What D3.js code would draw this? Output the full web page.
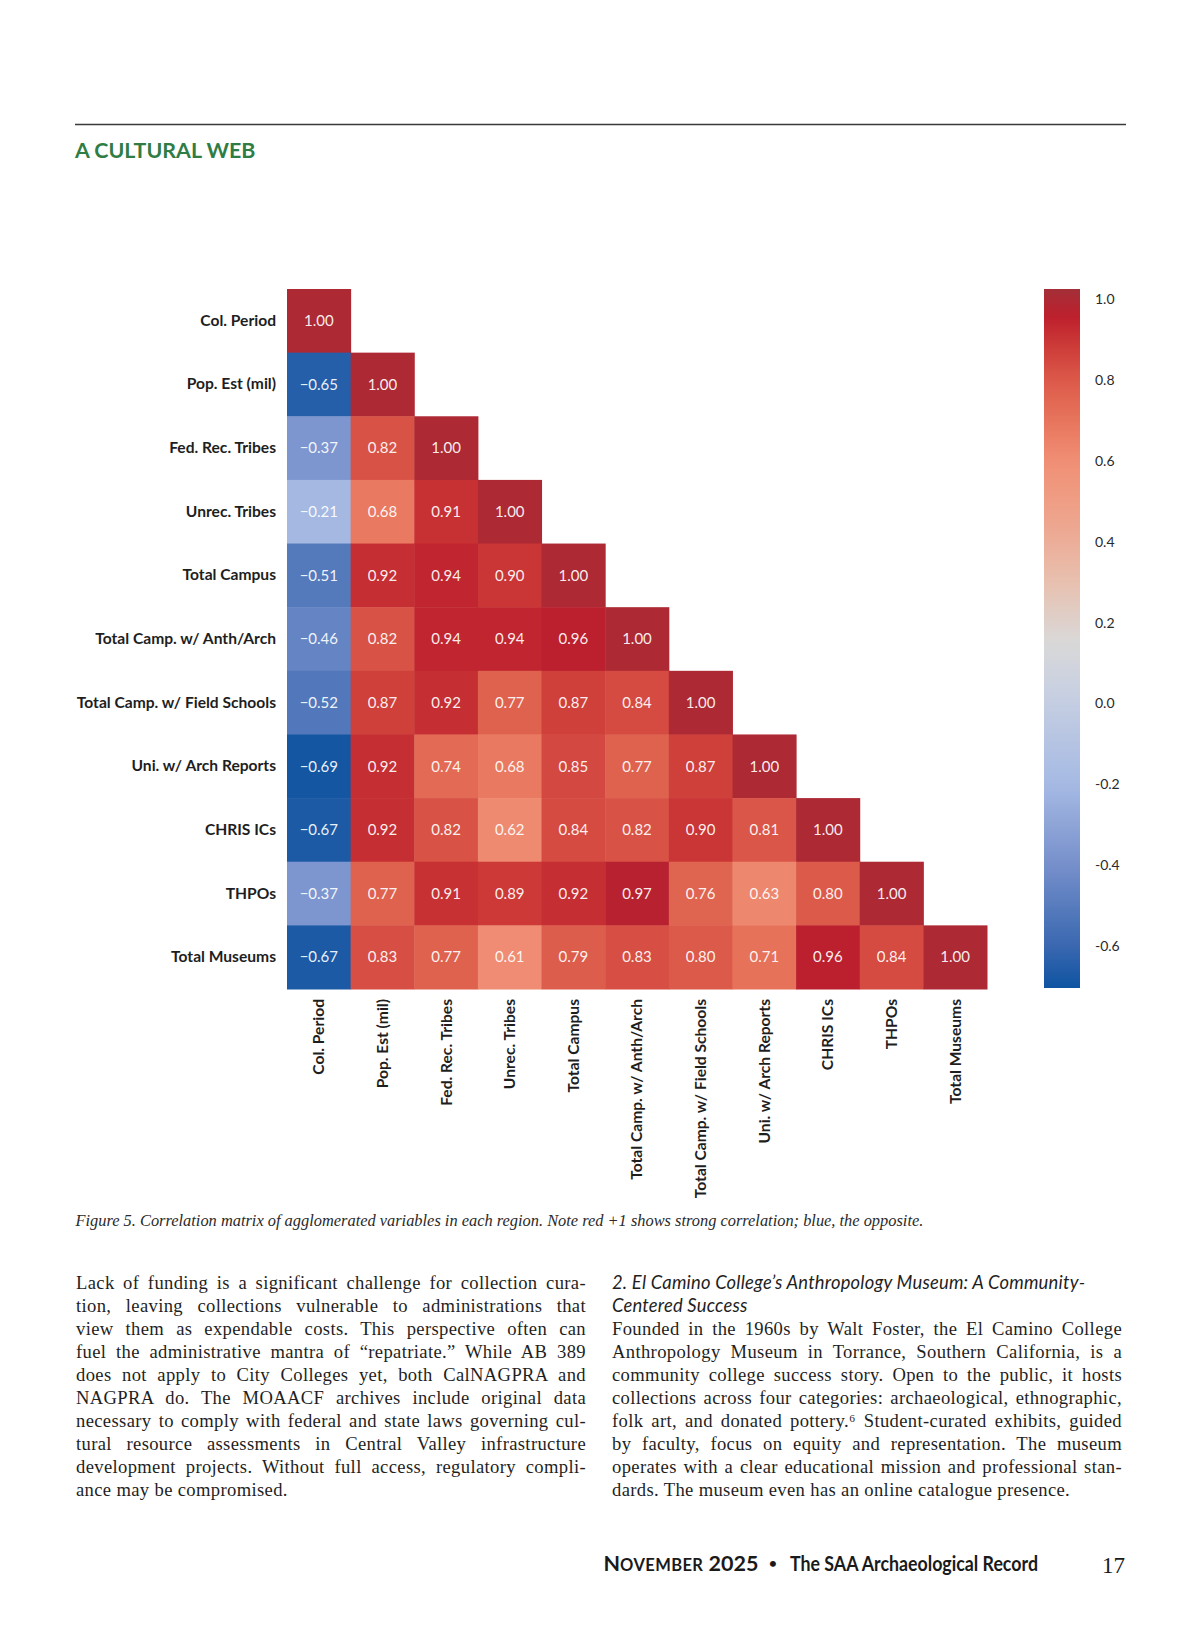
<!DOCTYPE html>
<html>
<head>
<meta charset="utf-8">
<script src="https://cdn.jsdelivr.net/npm/d3@7"></script>
<style>
  body { margin: 0; background: #fff; }
  svg { display: block; }
</style>
</head>
<body>
<div id="page"></div>
<script>
// variables (rows and columns of the matrix)
const variables = [
  'Col. Period',
  'Pop. Est (mil)',
  'Fed. Rec. Tribes',
  'Unrec. Tribes',
  'Total Campus',
  'Total Camp. w/ Anth/Arch',
  'Total Camp. w/ Field Schools',
  'Uni. w/ Arch Reports',
  'CHRIS ICs',
  'THPOs',
  'Total Museums'
];

// lower triangle, row by row
const corrRows = [
  [1.00],
  [-0.65, 1.00],
  [-0.37, 0.82, 1.00],
  [-0.21, 0.68, 0.91, 1.00],
  [-0.51, 0.92, 0.94, 0.90, 1.00],
  [-0.46, 0.82, 0.94, 0.94, 0.96, 1.00],
  [-0.52, 0.87, 0.92, 0.77, 0.87, 0.84, 1.00],
  [-0.69, 0.92, 0.74, 0.68, 0.85, 0.77, 0.87, 1.00],
  [-0.67, 0.92, 0.82, 0.62, 0.84, 0.82, 0.90, 0.81, 1.00],
  [-0.37, 0.77, 0.91, 0.89, 0.92, 0.97, 0.76, 0.63, 0.80, 1.00],
  [-0.67, 0.83, 0.77, 0.61, 0.79, 0.83, 0.80, 0.71, 0.96, 0.84, 1.00]
];

const colorbarTicks = [-0.6, -0.4, -0.2, 0.0, 0.2, 0.4, 0.6, 0.8, 1.0];
const colorbarDomain = [-0.705, 1.026];

const titleText = 'A CULTURAL WEB';
const captionText = 'Figure 5. Correlation matrix of agglomerated variables in each region. Note red +1 shows strong correlation; blue, the opposite.';

const leftColumn = [
  'Lack of funding is a significant challenge for collection cura-',
  'tion, leaving collections vulnerable to administrations that',
  'view them as expendable costs. This perspective often can',
  'fuel the administrative mantra of \u201crepatriate.\u201d While AB 389',
  'does not apply to City Colleges yet, both CalNAGPRA and',
  'NAGPRA do. The MOAACF archives include original data',
  'necessary to comply with federal and state laws governing cul-',
  'tural resource assessments in Central Valley infrastructure',
  'development projects. Without full access, regulatory compli-',
  'ance may be compromised.'
];

const rightHeading = [
  '2. El Camino College\u2019s Anthropology Museum: A Community-',
  'Centered Success'
];

const rightColumn = [
  'Founded in the 1960s by Walt Foster, the El Camino College',
  'Anthropology Museum in Torrance, Southern California, is a',
  'community college success story. Open to the public, it hosts',
  'collections across four categories: archaeological, ethnographic,',
  'folk art, and donated pottery.\u2076 Student-curated exhibits, guided',
  'by faculty, focus on equity and representation. The museum',
  'operates with a clear educational mission and professional stan-',
  'dards. The museum even has an online catalogue presence.'
];

// colormap (diverging, red high / blue low)
const cmapStops = [-0.713, -0.6, -0.4, -0.2, 0.0, 0.15, 0.3, 0.45, 0.6, 0.7, 0.8, 0.9, 0.96, 1.03];
const cmapColors = ['#0b52a0', '#3a68b0', '#7690cb', '#a6bae3', '#c4cde2', '#d9d9d9', '#e8c0af',
  '#eea58d', '#f08f75', '#e7755c', '#dc5a4a', '#ca3535', '#bc1f2d', '#a23039'];

const W = 1200, H = 1631;
const svg = d3.select('#page').append('svg')
  .attr('width', W)
  .attr('height', H)
  .attr('viewBox', `0 0 ${W} ${H}`);

const color = d3.scaleLinear().domain(cmapStops).range(cmapColors).interpolate(d3.interpolateRgb);

// header
svg.append('line')
  .attr('x1', 75).attr('x2', 1126)
  .attr('y1', 124.5).attr('y2', 124.5)
  .attr('stroke', '#3a3a3a').attr('stroke-width', 1.4);

svg.append('text')
  .attr('x', 75).attr('y', 157.5)
  .attr('fill', '#2f7d45')
  .style('font-family', 'Lato, sans-serif')
  .style('font-weight', 700)
  .style('font-size', '21.4px')
  .text(titleText);

// heatmap
const x = d3.scaleBand().domain(variables).range([287, 987]);
const y = d3.scaleBand().domain(variables).range([289, 989]);

const cells = [];
corrRows.forEach((row, i) => {
  row.forEach((v, j) => cells.push({ row: variables[i], col: variables[j], value: v }));
});

const heat = svg.append('g').attr('class', 'heatmap');

heat.selectAll('rect')
  .data(cells)
  .enter()
  .append('rect')
  .attr('x', d => x(d.col))
  .attr('y', d => y(d.row))
  .attr('width', x.bandwidth() + 0.5)
  .attr('height', y.bandwidth() + 0.5)
  .attr('fill', d => color(d.value));

const fmt = d3.format('.2f');
heat.selectAll('text')
  .data(cells)
  .enter()
  .append('text')
  .attr('x', d => x(d.col) + x.bandwidth() / 2)
  .attr('y', d => y(d.row) + y.bandwidth() / 2)
  .attr('dy', '0.35em')
  .attr('text-anchor', 'middle')
  .attr('fill', '#fff')
  .attr('fill-opacity', 0.93)
  .style('font-family', 'Lato, sans-serif')
  .style('font-size', '15px')
  .text(d => fmt(d.value));

// axes
const yAxis = svg.append('g')
  .attr('transform', 'translate(287,0)')
  .call(d3.axisLeft(y).tickSize(0).tickPadding(11));
yAxis.select('.domain').remove();
yAxis.selectAll('text')
  .attr('fill', '#1e1e1e')
  .style('font-family', 'Lato, sans-serif')
  .style('font-weight', 700)
  .style('font-size', '15.6px');

const xAxis = svg.append('g')
  .attr('transform', 'translate(0,989)')
  .call(d3.axisBottom(x).tickSize(0));
xAxis.select('.domain').remove();
xAxis.selectAll('text')
  .attr('transform', 'rotate(-90)')
  .attr('x', -10)
  .attr('y', 0)
  .attr('dy', '0.35em')
  .style('text-anchor', 'end')
  .attr('fill', '#1e1e1e')
  .style('font-family', 'Lato, sans-serif')
  .style('font-weight', 700)
  .style('font-size', '15.6px');

// colorbar
const cbX = 1044, cbW = 36;
const cScale = d3.scaleLinear().domain(colorbarDomain).range([988, 289]);

const defs = svg.append('defs');
const grad = defs.append('linearGradient')
  .attr('id', 'cbar')
  .attr('x1', 0).attr('x2', 0).attr('y1', 1).attr('y2', 0);
grad.selectAll('stop')
  .data(d3.range(0, 1.0001, 0.02))
  .enter()
  .append('stop')
  .attr('offset', d => d)
  .attr('stop-color', d => color(colorbarDomain[0] + d * (colorbarDomain[1] - colorbarDomain[0])));

svg.append('rect')
  .attr('x', cbX).attr('y', cScale(colorbarDomain[1]))
  .attr('width', cbW)
  .attr('height', cScale(colorbarDomain[0]) - cScale(colorbarDomain[1]))
  .attr('fill', 'url(#cbar)');

const cAxis = svg.append('g')
  .attr('transform', `translate(${cbX + cbW},0)`)
  .call(d3.axisRight(cScale).tickValues(colorbarTicks).tickSize(0).tickPadding(15).tickFormat(d => d.toFixed(1)));
cAxis.select('.domain').remove();
cAxis.selectAll('text')
  .attr('fill', '#2a2a2a')
  .style('font-family', 'Lato, sans-serif')
  .style('font-size', '14px');

// caption
svg.append('text')
  .attr('x', 75.5).attr('y', 1226)
  .attr('fill', '#2a2a2a')
  .style('font-family', '"Liberation Serif", serif')
  .style('font-style', 'italic')
  .style('font-size', '16.4px')
  .text(captionText);

// body text, justified by word spacing
const lineH = 23, baseY = 1289;
function justify(sel, width) {
  sel.each(function (d) {
    if (!d.justify) return;
    const node = this;
    const natural = node.getComputedTextLength();
    const spaces = (d.text.match(/ /g) || []).length;
    if (spaces > 0) d3.select(node).attr('word-spacing', (width - natural) / spaces);
  });
}

function column(lines, x0, firstLine, width, lastJustified) {
  const g = svg.append('g');
  g.selectAll('text')
    .data(lines.map((t, i) => ({ text: t, i, justify: lastJustified || i < lines.length - 1 })))
    .enter()
    .append('text')
    .attr('x', x0)
    .attr('y', d => baseY + (firstLine + d.i) * lineH)
    .attr('fill', '#1f1f1f')
    .attr('letter-spacing', '0.35px')
    .style('font-family', '"Liberation Serif", serif')
    .style('font-size', '18.6px')
    .text(d => d.text)
    .call(justify, width);
}

column(leftColumn, 76, 0, 510, false);

svg.append('g').selectAll('text')
  .data(rightHeading)
  .enter()
  .append('text')
  .attr('x', 612)
  .attr('y', (d, i) => baseY + i * lineH)
  .attr('fill', '#1f1f1f')
  .attr('letter-spacing', '0.2px')
  .style('font-family', 'Lato, sans-serif')
  .style('font-style', 'italic')
  .style('font-size', '18.4px')
  .text(d => d);

column(rightColumn, 612, 2, 510, false);

// footer
const foot = svg.append('text')
  .attr('x', 603.5).attr('y', 1571)
  .attr('fill', '#1a1a1a')
  .style('font-family', 'Lato, sans-serif')
  .style('font-weight', 700);
foot.append('tspan').style('font-size', '21.5px').text('N');
foot.append('tspan').style('font-size', '16.5px').attr('letter-spacing', '0.4px').text('OVEMBER');
foot.append('tspan').style('font-size', '21.5px').text(' 2025');

svg.append('text')
  .attr('x', 773).attr('y', 1569)
  .attr('text-anchor', 'middle')
  .attr('fill', '#1a1a1a')
  .style('font-family', 'Lato, sans-serif')
  .style('font-size', '16px')
  .text('\u2022');

svg.append('text')
  .attr('x', 790).attr('y', 1571)
  .attr('fill', '#1a1a1a')
  .attr('textLength', 248)
  .attr('lengthAdjust', 'spacingAndGlyphs')
  .style('font-family', 'Lato, sans-serif')
  .style('font-weight', 700)
  .style('font-size', '21px')
  .text('The SAA Archaeological Record');

svg.append('text')
  .attr('x', 1125).attr('y', 1573)
  .attr('text-anchor', 'end')
  .attr('fill', '#1a1a1a')
  .style('font-family', '"Liberation Serif", serif')
  .style('font-size', '23px')
  .text('17');
</script>
</body>
</html>
